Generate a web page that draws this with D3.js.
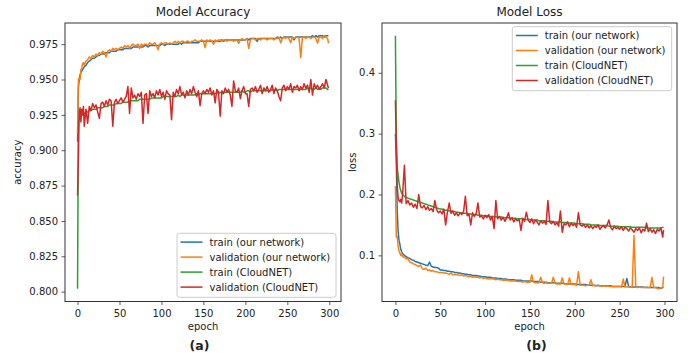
<!DOCTYPE html>
<html>
<head>
<meta charset="utf-8">
<script src="https://cdn.jsdelivr.net/npm/d3@7"></script>
<style>
  html, body { margin: 0; padding: 0; background: #fff; }
  text { font-family: "DejaVu Sans", sans-serif; fill: #222; }
</style>
</head>
<body>
<div id="chart"></div>
<script>
// x positions (epochs) shared by every series
const epochs = [
  0,1,2,3,4,5,6,7,8,
  10,12,14,16,18,20,22,24,26,28,
  30,32,34,36,38,40,42,44,46,48,
  50,52,54,56,58,60,62,64,66,68,
  70,72,74,76,78,80,82,84,86,88,
  90,92,94,96,98,100,102,104,106,108,
  110,112,114,116,118,120,122,124,126,128,
  130,132,134,136,138,140,142,144,146,148,
  150,152,154,156,158,160,162,164,166,168,
  170,172,174,176,178,180,182,184,186,188,
  190,192,194,196,198,200,202,204,206,208,
  210,212,214,216,218,220,222,224,226,228,
  230,232,234,236,238,240,242,244,246,248,
  250,252,254,256,258,260,262,264,266,268,
  270,272,274,276,278,280,282,284,286,288,
  290,292,294,296,298,299
];

const seriesNames = ['train (our network)', 'validation (our network)', 'train (CloudNET)', 'validation (CloudNET)'];
const xTicks = [0, 50, 100, 150, 200, 250, 300];
const accTicks = [0.800, 0.825, 0.850, 0.875, 0.900, 0.925, 0.950, 0.975];
const lossTicks = [0.1, 0.2, 0.3, 0.4];

const accTrainOurs = [
  .906,.944,.950,.953,.955,.956,.957,.958,.959,
  .960,.962,.963,.964,.965,.965,.966,.967,.967,.968,
  .968,.968,.969,.969,.969,.970,.970,.970,.970,.971,
  .971,.971,.971,.972,.972,.972,.972,.972,.973,.973,
  .973,.973,.973,.973,.973,.974,.974,.973,.974,.974,
  .974,.974,.974,.974,.974,.975,.975,.974,.975,.975,
  .975,.975,.975,.975,.975,.975,.976,.975,.976,.976,
  .976,.976,.976,.976,.976,.976,.976,.976,.977,.977,
  .977,.977,.977,.977,.977,.977,.977,.977,.977,.977,
  .977,.978,.977,.978,.978,.978,.978,.978,.978,.978,
  .978,.978,.978,.978,.978,.978,.979,.978,.979,.979,
  .979,.979,.977,.979,.979,.979,.979,.979,.979,.979,
  .979,.979,.979,.979,.980,.979,.980,.979,.980,.980,
  .980,.980,.980,.980,.978,.980,.980,.980,.980,.980,
  .980,.980,.980,.980,.980,.981,.980,.981,.980,.981,
  .981,.981,.980,.981,.981,.981
];
const accValOurs = [
  .912,.950,.951,.950,.957,.958,.961,.962,.960,
  .963,.964,.966,.965,.967,.966,.968,.967,.969,.968,
  .970,.969,.966,.970,.971,.970,.972,.971,.972,.971,
  .972,.973,.972,.974,.973,.974,.972,.974,.975,.974,
  .974,.975,.972,.975,.974,.975,.975,.974,.976,.975,
  .975,.976,.974,.971,.975,.976,.975,.976,.976,.975,
  .976,.975,.976,.977,.976,.977,.976,.977,.977,.976,
  .977,.977,.976,.977,.977,.978,.977,.977,.977,.978,
  .977,.9725,.978,.977,.978,.977,.975,.978,.977,.978,
  .978,.977,.978,.978,.977,.978,.978,.978,.977,.978,
  .978,.9755,.978,.979,.978,.978,.979,.972,.978,.979,
  .979,.978,.979,.979,.978,.979,.979,.979,.978,.979,
  .979,.979,.978,.979,.979,.980,.976,.979,.980,.979,
  .980,.979,.976,.980,.979,.980,.980,.979,.9655,.980,
  .980,.979,.980,.980,.979,.980,.980,.979,.9757,.980,
  .980,.979,.981,.980,.979,.9757
];
const accTrainCloud = [
  .802,.920,.922,.923,.924,.925,.925,.926,.926,
  .927,.927,.928,.928,.929,.929,.929,.930,.930,.930,
  .930,.931,.931,.931,.932,.932,.932,.932,.933,.933,
  .933,.933,.934,.934,.934,.934,.935,.935,.935,.935,
  .935,.935,.936,.936,.936,.936,.936,.936,.936,.937,
  .937,.937,.937,.937,.937,.937,.938,.938,.938,.938,
  .938,.938,.938,.938,.938,.939,.938,.939,.939,.939,
  .939,.939,.939,.939,.939,.939,.940,.939,.940,.940,
  .940,.940,.940,.940,.940,.940,.940,.940,.941,.940,
  .941,.940,.941,.941,.941,.941,.941,.941,.941,.941,
  .941,.941,.941,.942,.941,.941,.942,.942,.941,.942,
  .942,.942,.942,.942,.942,.942,.942,.942,.942,.942,
  .942,.943,.942,.943,.942,.943,.943,.943,.943,.943,
  .943,.943,.943,.943,.943,.943,.943,.943,.943,.943,
  .943,.943,.944,.943,.944,.943,.943,.944,.943,.944,
  .943,.944,.944,.944,.943,.9435
];
const accValCloud = [
  .868,.896,.927,.930,.920,.929,.925,.931,.917,
  .929,.919,.931,.928,.933,.930,.932,.927,.9225,.933,
  .934,.931,.935,.932,.936,.935,.917,.934,.936,.933,
  .935,.937,.934,.936,.938,.945,.926,.944,.937,.939,
  .936,.940,.938,.941,.919,.939,.940,.926,.942,.938,
  .940,.937,.942,.939,.943,.938,.941,.936,.942,.940,
  .939,.9215,.941,.938,.943,.940,.945,.939,.941,.937,
  .942,.939,.943,.940,.945,.941,.938,.942,.9315,.940,
  .942,.940,.943,.941,.944,.939,.942,.9335,.943,.941,
  .924,.942,.940,.944,.941,.943,.939,.931,.949,.942,
  .941,.944,.9365,.942,.945,.940,.940,.931,.943,.944,
  .942,.945,.941,.943,.946,.940,.944,.942,.945,.941,
  .943,.946,.940,.944,.942,.938,.935,.944,.946,.942,
  .945,.943,.947,.941,.945,.944,.946,.942,.945,.943,
  .947,.944,.946,.941,.950,.939,.947,.944,.946,.943,
  .945,.947,.944,.950,.946,.944
];

const lossTrainOurs = [
  .300,.250,.175,.140,.125,.118,.110,.106,.103,
  .100,.098,.096,.095,.093,.092,.090,.089,.088,.087,
  .086,.085,.084,.083,.089,.082,.081,.080,.080,.079,
  .076,.076,.075,.075,.074,.074,.073,.073,.072,.072,
  .071,.071,.070,.070,.069,.069,.068,.068,.067,.067,
  .067,.066,.066,.065,.065,.065,.064,.064,.064,.063,
  .063,.063,.062,.062,.062,.061,.061,.061,.060,.060,
  .060,.060,.059,.059,.059,.059,.058,.058,.058,.058,
  .058,.058,.057,.057,.057,.057,.056,.056,.056,.056,
  .055,.055,.055,.055,.055,.054,.054,.054,.054,.054,
  .053,.053,.053,.053,.053,.053,.052,.052,.052,.052,
  .052,.052,.051,.051,.051,.051,.051,.050,.051,.050,
  .050,.050,.050,.050,.050,.050,.049,.049,.049,.049,
  .049,.049,.049,.049,.062,.049,.048,.048,.048,.048,
  .048,.048,.048,.048,.047,.047,.047,.047,.047,.047,
  .047,.047,.047,.046,.047,.047
];
const lossValOurs = [
  .214,.130,.131,.115,.108,.104,.100,.102,.098,
  .097,.094,.095,.089,.088,.086,.085,.083,.082,.084,
  .078,.077,.079,.075,.076,.074,.075,.073,.073,.072,
  .072,.072,.071,.071,.070,.069,.071,.068,.069,.068,
  .068,.067,.068,.066,.067,.066,.065,.066,.064,.065,
  .064,.064,.063,.064,.062,.063,.062,.061,.062,.061,
  .061,.060,.061,.060,.060,.059,.059,.059,.059,.058,
  .058,.058,.058,.057,.057,.057,.056,.057,.056,.056,
  .056,.068,.056,.055,.055,.055,.064,.055,.054,.055,
  .054,.054,.054,.064,.054,.053,.053,.053,.063,.053,
  .053,.052,.063,.052,.052,.052,.051,.073,.051,.051,
  .051,.050,.051,.051,.060,.050,.050,.050,.050,.050,
  .049,.050,.049,.050,.049,.049,.049,.049,.049,.049,
  .049,.048,.061,.048,.048,.048,.048,.048,.133,.048,
  .047,.048,.047,.047,.047,.048,.047,.047,.064,.047,
  .047,.046,.045,.047,.048,.065
];
const lossTrainCloud = [
  .461,.290,.245,.232,.220,.212,.206,.202,.200,
  .197,.195,.194,.193,.192,.191,.190,.189,.188,.187,
  .186,.185,.184,.183,.182,.181,.180,.179,.178,.177,
  .176,.176,.175,.174,.174,.173,.173,.172,.172,.171,
  .171,.170,.170,.169,.169,.169,.168,.168,.167,.167,
  .167,.166,.166,.166,.165,.165,.165,.164,.164,.164,
  .164,.163,.163,.163,.163,.162,.162,.162,.162,.161,
  .161,.161,.161,.160,.160,.160,.160,.159,.159,.159,
  .159,.158,.158,.158,.158,.157,.157,.157,.157,.156,
  .156,.156,.156,.155,.155,.155,.155,.155,.154,.154,
  .154,.154,.153,.153,.153,.153,.152,.152,.152,.152,
  .151,.151,.151,.151,.150,.150,.150,.150,.150,.149,
  .149,.149,.149,.149,.148,.148,.148,.148,.148,.148,
  .147,.147,.147,.147,.147,.147,.147,.146,.146,.146,
  .146,.146,.146,.146,.146,.145,.145,.145,.145,.145,
  .145,.145,.145,.145,.146,.146
];
const lossValCloud = [
  .355,.278,.215,.195,.190,.188,.192,.186,.200,
  .248,.185,.190,.183,.186,.179,.184,.177,.200,.180,
  .178,.182,.175,.180,.174,.177,.172,.190,.175,.170,
  .173,.168,.176,.150,.171,.186,.169,.173,.166,.170,
  .165,.170,.167,.172,.197,.165,.168,.150,.170,.164,
  .168,.186,.163,.165,.160,.166,.162,.167,.158,.164,
  .144,.190,.160,.164,.158,.163,.156,.161,.170,.158,
  .162,.155,.160,.157,.159,.141,.161,.156,.171,.158,
  .154,.160,.152,.158,.155,.150,.157,.153,.156,.151,
  .190,.155,.152,.156,.150,.154,.148,.173,.138,.152,
  .150,.155,.147,.153,.149,.152,.146,.170,.150,.148,
  .151,.146,.150,.145,.149,.144,.148,.146,.150,.143,
  .147,.149,.145,.150,.158,.146,.142,.148,.144,.146,
  .143,.147,.141,.146,.144,.140,.145,.142,.138,.144,
  .141,.145,.137,.143,.140,.153,.139,.144,.138,.142,
  .136,.143,.140,.145,.130,.142
];

const colors = ['#1f77b4', '#ff7f0e', '#2ca02c', '#d62728'];

[accTrainOurs, accValOurs, accTrainCloud, accValCloud,
 lossTrainOurs, lossValOurs, lossTrainCloud, lossValCloud].forEach((s, i) => {
  if (s.length !== epochs.length) throw new Error('series ' + i + ' has ' + s.length + ' values');
});

const width = 691, height = 353;
const svg = d3.select('#chart').append('svg')
  .attr('width', width)
  .attr('height', height);

// matplotlib style autoscale: 5% margin on each side
function padded(lo, hi) {
  const m = (hi - lo) * 0.05;
  return [lo - m, hi + m];
}

function drawPanel(p) {
  const g = svg.append('g');

  const x = d3.scaleLinear()
    .domain(padded(d3.min(epochs), d3.max(epochs)))
    .range([p.left, p.right]);
  const all = p.series.flat();
  const y = d3.scaleLinear()
    .domain(padded(d3.min(all), d3.max(all)))
    .range([p.bottom, p.top]);

  const clipId = 'clip-' + p.id;
  g.append('clipPath').attr('id', clipId)
    .append('rect')
    .attr('x', p.left).attr('y', p.top)
    .attr('width', p.right - p.left).attr('height', p.bottom - p.top);

  const line = d3.line()
    .x((d, i) => x(epochs[i]))
    .y(d => y(d));

  g.append('g')
    .attr('clip-path', `url(#${clipId})`)
    .selectAll('path')
    .data(p.series)
    .enter()
    .append('path')
    .attr('d', line)
    .attr('fill', 'none')
    .attr('stroke', (d, i) => colors[i])
    .attr('stroke-width', 1.5)
    .attr('stroke-linejoin', 'round');

  // axes frame
  g.append('rect')
    .attr('x', p.left).attr('y', p.top)
    .attr('width', p.right - p.left).attr('height', p.bottom - p.top)
    .attr('fill', 'none')
    .attr('stroke', '#333')
    .attr('stroke-width', 1);

  const xAxis = g.append('g')
    .attr('transform', `translate(0,${p.bottom})`)
    .call(d3.axisBottom(x).tickValues(xTicks).tickSize(3.5).tickPadding(4.5).tickSizeOuter(0));
  const yAxis = g.append('g')
    .attr('transform', `translate(${p.left},0)`)
    .call(d3.axisLeft(y).tickValues(p.yTicks).tickFormat(d3.format(p.yFormat))
      .tickSize(3.5).tickPadding(3.5).tickSizeOuter(0));

  [xAxis, yAxis].forEach(a => {
    a.select('.domain').remove();
    a.selectAll('.tick line').attr('stroke', '#333').attr('stroke-width', 0.8);
    a.selectAll('.tick text')
      .style('font-family', '"DejaVu Sans", sans-serif')
      .style('font-size', '10px')
      .attr('fill', '#222');
  });

  const cx = (p.left + p.right) / 2;
  g.append('text')
    .attr('x', cx).attr('y', 16)
    .attr('text-anchor', 'middle')
    .style('font-size', '12px')
    .text(p.title);

  g.append('text')
    .attr('x', cx).attr('y', 330)
    .attr('text-anchor', 'middle')
    .style('font-size', '10px')
    .text('epoch');

  g.append('text')
    .attr('transform', `translate(${p.ylabelX},${(p.top + p.bottom) / 2}) rotate(-90)`)
    .attr('text-anchor', 'middle')
    .style('font-size', '10px')
    .text(p.ylabel);

  g.append('text')
    .attr('x', p.tagX).attr('y', 349.5)
    .attr('text-anchor', 'middle')
    .style('font-size', '12.5px')
    .style('font-weight', 'bold')
    .text(p.tag);

  // legend
  const lg = g.append('g').attr('transform', `translate(${p.legend[0]},${p.legend[1]})`);
  lg.append('rect')
    .attr('width', p.legend[2]).attr('height', 64)
    .attr('rx', 2.5)
    .attr('fill', '#fff').attr('fill-opacity', 0.8)
    .attr('stroke', '#ccc').attr('stroke-width', 1);
  const item = lg.selectAll('g.item')
    .data(seriesNames)
    .enter()
    .append('g')
    .attr('class', 'item')
    .attr('transform', (d, i) => `translate(0,${8.8 + i * 15})`);
  item.append('line')
    .attr('x1', 3.5).attr('x2', 25.5)
    .attr('stroke', (d, i) => colors[i])
    .attr('stroke-width', 1.5);
  item.append('text')
    .attr('x', 32.5).attr('y', 3.6)
    .style('font-size', '10px')
    .text(d => d);
}

drawPanel({
  id: 'acc',
  left: 65, right: 341, top: 23, bottom: 301.5,
  series: [accTrainOurs, accValOurs, accTrainCloud, accValCloud],
  yTicks: accTicks, yFormat: '.3f',
  title: 'Model Accuracy', ylabel: 'accuracy', ylabelX: 21,
  tag: '(a)', tagX: 199.5,
  legend: [177, 233.3, 159]
});

drawPanel({
  id: 'loss',
  left: 382, right: 677, top: 23, bottom: 301.5,
  series: [lossTrainOurs, lossValOurs, lossTrainCloud, lossValCloud],
  yTicks: lossTicks, yFormat: '.1f',
  title: 'Model Loss', ylabel: 'loss', ylabelX: 355.5,
  tag: '(b)', tagX: 536.5,
  legend: [512.3, 26.7, 159.4]
});
</script>
</body>
</html>
